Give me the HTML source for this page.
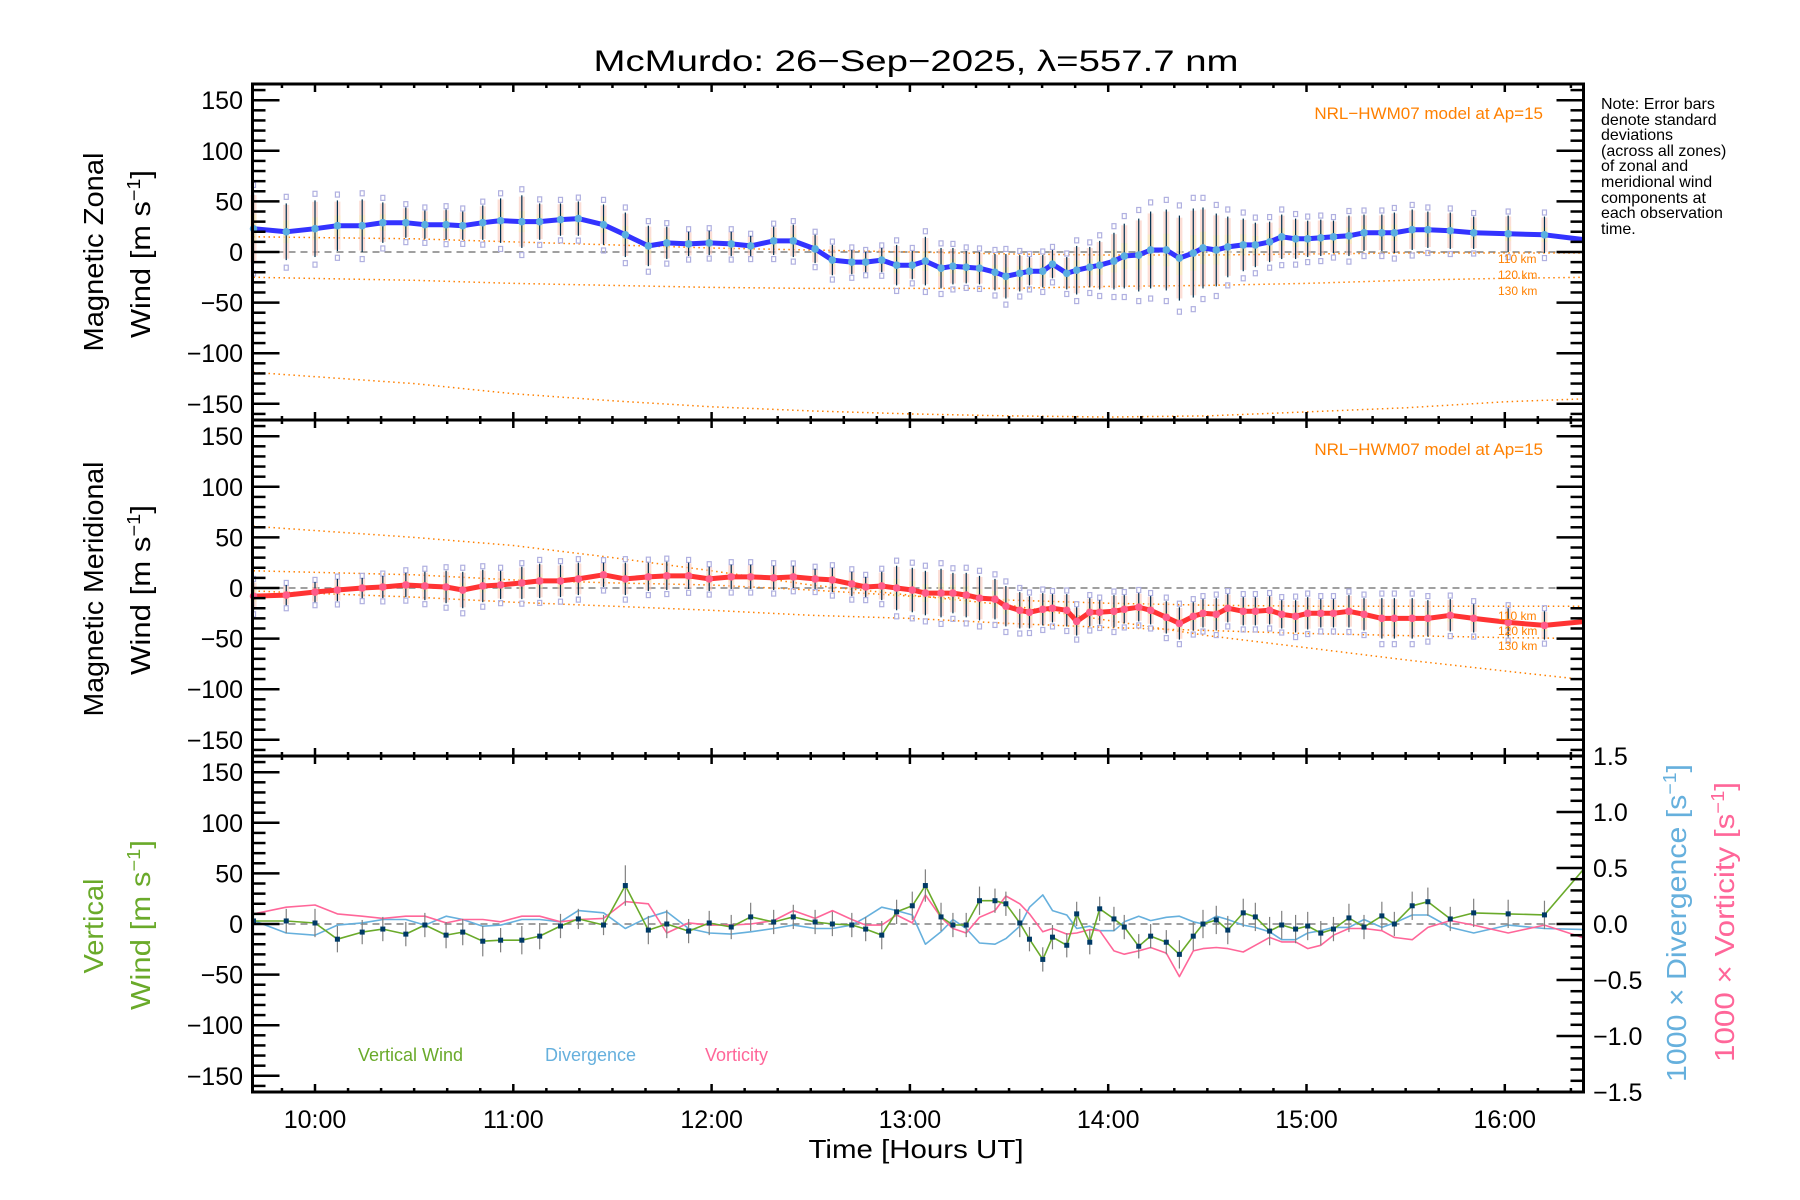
<!DOCTYPE html>
<html><head><meta charset="utf-8"><title>McMurdo winds</title>
<style>
html,body{margin:0;padding:0;background:#fff;}
svg{display:block;font-family:"Liberation Sans",sans-serif;}
</style></head>
<body>
<svg id="chart" width="1800" height="1200" viewBox="0 0 1800 1200" xmlns="http://www.w3.org/2000/svg">
<text x="916" y="71" font-size="30" text-anchor="middle" textLength="645" lengthAdjust="spacingAndGlyphs">McMurdo: 26−Sep−2025, λ=557.7 nm</text>
<g id="marks"></g>
<g id="axes"></g>
<g>
<text transform="translate(103,252) rotate(-90)" font-size="28" text-anchor="middle" textLength="199" lengthAdjust="spacingAndGlyphs">Magnetic Zonal</text>
<text transform="translate(150,254) rotate(-90)" font-size="28" text-anchor="middle" textLength="168" lengthAdjust="spacingAndGlyphs">Wind [m s<tspan dy="-10" font-size="18">−1</tspan><tspan dy="10">]</tspan></text>
</g>
<g>
<text transform="translate(103,589) rotate(-90)" font-size="28" text-anchor="middle" textLength="255" lengthAdjust="spacingAndGlyphs">Magnetic Meridional</text>
<text transform="translate(150,590) rotate(-90)" font-size="28" text-anchor="middle" textLength="170" lengthAdjust="spacingAndGlyphs">Wind [m s<tspan dy="-10" font-size="18">−1</tspan><tspan dy="10">]</tspan></text>
</g>
<g fill="#6aaa2a">
<text transform="translate(103,926) rotate(-90)" font-size="28" text-anchor="middle" textLength="95" lengthAdjust="spacingAndGlyphs">Vertical</text>
<text transform="translate(150,925) rotate(-90)" font-size="28" text-anchor="middle" textLength="170" lengthAdjust="spacingAndGlyphs">Wind [m s<tspan dy="-10" font-size="18">−1</tspan><tspan dy="10">]</tspan></text>
</g>
<text transform="translate(1686,923) rotate(-90)" font-size="28" fill="#66b0dd" text-anchor="middle" textLength="318" lengthAdjust="spacingAndGlyphs">1000 × Divergence [s<tspan dy="-10" font-size="18">−1</tspan><tspan dy="10">]</tspan></text>
<text transform="translate(1734,922) rotate(-90)" font-size="28" fill="#ff6699" text-anchor="middle" textLength="280" lengthAdjust="spacingAndGlyphs">1000 × Vorticity [s<tspan dy="-10" font-size="18">−1</tspan><tspan dy="10">]</tspan></text>
<text x="916" y="1158" font-size="26" text-anchor="middle" textLength="215" lengthAdjust="spacingAndGlyphs">Time [Hours UT]</text>
<g font-size="16">
<text x="1601" y="109">Note: Error bars</text>
<text x="1601" y="125">denote standard</text>
<text x="1601" y="140">deviations</text>
<text x="1601" y="156">(across all zones)</text>
<text x="1601" y="171">of zonal and</text>
<text x="1601" y="187">meridional wind</text>
<text x="1601" y="203">components at</text>
<text x="1601" y="218">each observation</text>
<text x="1601" y="234">time.</text>
</g>
<g fill="#ff8000">
<text x="1543" y="119" font-size="17" text-anchor="end">NRL−HWM07 model at Ap=15</text>
<text x="1543" y="455" font-size="17" text-anchor="end">NRL−HWM07 model at Ap=15</text>
<text x="1498" y="263" font-size="12">110 km</text>
<text x="1498" y="279" font-size="12">120 km</text>
<text x="1498" y="295" font-size="12">130 km</text>
<text x="1498" y="620" font-size="12">110 km</text>
<text x="1498" y="635" font-size="12">120 km</text>
<text x="1498" y="650" font-size="12">130 km</text>
</g>
<g font-size="18">
<text x="358" y="1061" fill="#6aaa2a">Vertical Wind</text>
<text x="545" y="1061" fill="#66b0dd">Divergence</text>
<text x="705" y="1061" fill="#ff6699">Vorticity</text>
</g>
</svg>
<script>
const times=[9.69,9.855,10.0,10.113,10.238,10.342,10.458,10.554,10.661,10.745,10.846,10.936,11.043,11.133,11.238,11.328,11.455,11.565,11.681,11.774,11.884,11.988,12.099,12.197,12.313,12.412,12.522,12.609,12.707,12.777,12.858,12.933,
13.012,13.078,13.157,13.217,13.284,13.351,13.429,13.484,13.554,13.603,13.670,13.719,13.791,13.841,13.907,13.957,14.029,14.081,14.154,14.214,14.293,14.359,14.429,14.478,14.545,14.603,14.681,14.742,14.814,14.875,14.945,15.006,15.072,15.136,15.214,15.290,15.380,15.443,15.533,15.612,15.725,15.843,16.017,16.2,16.41];
const zonal=[23,20,23,26,26,29,29,27,27,26,29,31,30,30,32,33,27,17,6,9,8,9,8,6,11,11,3,-8,-10,-10,-8,-13,
-13,-9,-16,-14,-15,-16,-20,-24,-21,-19,-19,-12,-21,-18,-15,-13,-9,-4,-3,2,2,-6,-1,4,2,5,7,7,10,15,13,13,14,15,16,19,19,19,22,22,21,19,18,17,12];
const zonalErr=[35,28,28,25,26,20,15,14,15,14,17,22,26,18,16,17,20,22,20,16,12,12,12,10,14,16,14,15,12,10,12,20,
14,24,20,18,16,16,18,22,18,14,16,14,16,24,20,24,28,32,36,38,40,42,44,40,36,30,26,22,20,22,20,18,18,16,20,18,18,20,20,18,18,16,18,18,14];
const merid=[-8,-7,-4,-2,0,1,3,2,1,-2,2,3,5,7,7,9,13,9,11,12,12,9,11,11,10,11,9,8,4,1,2,0,
-2,-5,-5,-5,-7,-10,-11,-18,-22,-24,-21,-20,-22,-33,-24,-24,-23,-21,-19,-22,-29,-35,-28,-25,-26,-20,-23,-23,-22,-26,-28,-25,-25,-25,-23,-26,-30,-30,-30,-30,-27,-30,-34,-37,-33];
const meridErr=[14,10,10,11,10,11,12,14,16,18,16,14,16,17,16,16,12,16,14,14,13,12,12,12,12,11,10,12,12,10,14,22,
22,22,24,20,22,22,20,20,18,16,16,14,16,14,14,12,16,14,14,14,16,16,14,14,16,14,14,14,14,14,16,16,14,14,16,16,20,20,20,18,16,14,14,14,18];
const vert=[3,3,1,-15,-8,-5,-10,-1,-11,-8,-17,-16,-16,-12,-2,5,-1,38,-6,0,-7,1,-3,7,2,7,2,0,-1,-5,-11,12,
18,38,7,-1,-1,23,23,20,1,-15,-35,-13,-21,10,-18,15,5,-3,-22,-12,-18,-30,-12,0,4,-6,11,7,-7,-1,-5,-2,-9,-5,6,-3,8,0,18,22,5,11,10,9,57];
const vertErr=[12,12,14,13,12,12,12,12,13,13,15,12,14,13,12,10,10,20,14,14,12,12,12,14,12,12,12,12,12,12,14,12,
14,16,14,12,12,14,12,12,14,12,12,12,12,12,12,12,12,12,12,12,12,14,14,14,14,14,14,14,14,14,14,14,12,12,14,12,14,12,14,14,12,14,14,14,14];
const divergence=[0.03,-0.08,-0.10,-0.01,0.01,0.04,0.04,-0.01,0.07,0.04,-0.02,-0.01,0.04,0.04,0.02,0.12,0.10,-0.04,0.06,0.11,-0.04,-0.08,-0.09,-0.07,-0.04,-0.01,-0.04,-0.04,-0.01,0.06,0.15,0.12,
0.08,-0.18,-0.07,0.04,-0.04,-0.17,-0.18,-0.13,-0.02,0.15,0.26,0.12,0.08,-0.04,-0.02,-0.06,-0.06,0.02,0.07,0.03,0.06,0.07,0.02,0,0.07,0.04,-0.01,-0.03,-0.07,-0.14,-0.14,-0.08,-0.06,-0.03,-0.03,0.04,-0.03,0.01,0.08,0.08,-0.03,-0.08,-0.01,-0.04,-0.05];
const vorticity=[0.09,0.15,0.17,0.09,0.07,0.05,0.07,0.07,0.01,0.04,0.04,0.02,0.07,0.07,0.02,0.04,0.05,0.20,0.18,-0.08,0.01,-0.01,-0.01,0,0.03,0.12,0.05,0.12,0.04,-0.01,-0.01,0.08,
0.01,0.26,0.06,-0.04,-0.08,0.06,0.12,0.25,0.18,0.09,-0.07,-0.04,-0.09,-0.08,-0.05,-0.06,-0.24,-0.27,-0.24,-0.21,-0.26,-0.47,-0.24,-0.22,-0.21,-0.22,-0.25,-0.19,-0.12,-0.16,-0.16,-0.22,-0.19,-0.10,-0.04,-0.04,-0.06,-0.12,-0.14,-0.03,0.03,-0.01,-0.08,-0.01,-0.13];
const modelTimes=[9.69,10.5,11,11.5,12,12.5,13,13.5,14,14.5,15,15.5,16,16.42];
const zon110=[15,13,10,7,4,2,0,-2,-3,-3,-2,-1,-1,-1];
const zon120=[-25,-28,-31,-33,-35,-36,-36,-36,-34,-33,-31,-28,-26,-25];
const zon130=[-119,-130,-140,-147,-153,-157,-160,-162,-163,-162,-158,-154,-148,-145];
const mer110=[17,13,8,5,3,-2,-8,-12,-15,-17,-18,-18,-18,-18];
const mer120=[-3,-9,-14,-18,-22,-27,-30,-35,-39,-42,-45,-47,-49,-50];
const mer130=[61,50,42,30,17,3,-7,-17,-32,-47,-59,-71,-82,-91];
const yMajorTicks=[-150,-100,-50,0,50,100,150];
const rMajorTicks=[-1.5,-1.0,-0.5,0.0,0.5,1.0,1.5];
const hourTicks=[10,11,12,13,14,15,16];

const NS="http://www.w3.org/2000/svg";
const X0=252.5,X1=1583.5,TOPS=[84,420,756],PH=336;
function xs(t){return 315+(t-10)*198.3;}
function ys(v,p){return TOPS[p]+168-v*1.012;}
function yr(v){return 924-v*112;}
const marks=document.getElementById('marks'),axes=document.getElementById('axes');
function mk(tag,at,parent){const e=document.createElementNS(NS,tag);for(const k in at)e.setAttribute(k,at[k]);(parent||marks).appendChild(e);return e;}
function grp(name,parent){const g=mk('g',{},parent);


return g;}
function poly(g,pts,stroke,w,dash){const e=mk('polyline',{points:pts.map(p=>p[0].toFixed(1)+','+p[1].toFixed(1)).join(' '),fill:'none',stroke:stroke,'stroke-width':w,'stroke-linejoin':'round'},g);if(dash)e.setAttribute('stroke-dasharray',dash);return e;}

[0,1,2].forEach(p=>{const g=grp('zero-line-panel-'+(p+1));mk('line',{x1:X0,x2:X1,y1:ys(0,p),y2:ys(0,p),stroke:'#808080','stroke-width':1.5,'stroke-dasharray':'7,5'},g);});
[[zon110,0,'zonal-model-110km'],[zon120,0,'zonal-model-120km'],[zon130,0,'zonal-model-130km'],[mer110,1,'meridional-model-110km'],[mer120,1,'meridional-model-120km'],[mer130,1,'meridional-model-130km']].forEach(([arr,p,name])=>{
 const g=grp(name);poly(g,modelTimes.map((t,i)=>[xs(t),ys(arr[i],p)]),'#ff8000',1.5,'1.5,3.5');});

function windPanel(vals,errs,p,lineCol,dotCol,nm){
 const gz=grp(nm+'-zone-spread');
 const ge=grp(nm+'-error-bars');
 vals.forEach((v,i)=>{const x=xs(times[i]);const e=errs[i];
  const r=mk('rect',{x:x-3,y:ys(v+e*0.95,p),width:6,height:e*1.9*1.012,fill:'#fac8ba','fill-opacity':0.6},gz);
  
  const r2=mk('rect',{x:x-3,y:ys(v+e*0.4,p),width:6,height:e*0.8*1.012,fill:'#f4f0b0','fill-opacity':0.5},gz);
  
  [1.25,-1.25].forEach(k=>{const s=mk('rect',{x:x-2,y:ys(v+k*e,p)-2,width:4,height:5,fill:'none',stroke:'#b0b0e0','stroke-width':1.2},gz);
   });
  const l=mk('line',{x1:x,x2:x,y1:ys(v+e,p),y2:ys(v-e,p),stroke:'#003050','stroke-width':1.2},ge);
  
 });
 const gl=grp(nm+'-line');
 poly(gl,vals.map((v,i)=>[xs(times[i]),ys(v,p)]),lineCol,5);
 vals.forEach((v,i)=>{const c=mk('circle',{cx:xs(times[i]),cy:ys(v,p),r:3.8,fill:dotCol},gl);
  });
}
windPanel(zonal,zonalErr,0,'#3333ff','#5aaee0','zonal');
windPanel(merid,meridErr,1,'#ff3333','#ff5c8a','meridional');

const gd=grp('divergence-line');poly(gd,divergence.map((v,i)=>[xs(times[i]),yr(v)]),'#66b0dd',1.6);
const gv=grp('vorticity-line');poly(gv,vorticity.map((v,i)=>[xs(times[i]),yr(v)]),'#ff6699',1.6);
const gve=grp('vertical-error-bars');
vert.forEach((v,i)=>{const x=xs(times[i]);const l=mk('line',{x1:x,x2:x,y1:ys(v+vertErr[i],2),y2:ys(v-vertErr[i],2),stroke:'#808080','stroke-width':1.2},gve);
 });
const gw=grp('vertical-wind-line');poly(gw,vert.map((v,i)=>[xs(times[i]),ys(v,2)]),'#6aaa2a',1.6);
vert.forEach((v,i)=>{const s=mk('rect',{x:xs(times[i])-2.5,y:ys(v,2)-2.5,width:5,height:5,fill:'#003a66'},gw);
 });

const mask=grp('plot-margin-mask');
mk('rect',{x:X1+1.5,y:80,width:14,height:1016,fill:'#fff'},mask);

for(let p=0;p<3;p++){
 const g=grp('panel-'+(p+1)+'-axes',axes);
 const top=TOPS[p],bot=top+PH;
 mk('rect',{x:X0,y:top,width:X1-X0,height:PH,fill:'none',stroke:'#000','stroke-width':3},g);
 for(let v=-160;v<=160;v+=10){const maj=v%50===0;const y=ys(v,p);
  mk('line',{x1:X0,x2:X0+(maj?27:13),y1:y,y2:y,stroke:'#000','stroke-width':2.5},g);
  if(p<2)mk('line',{x1:X1,x2:X1-(maj?27:13),y1:y,y2:y,stroke:'#000','stroke-width':2.5},g);}
 yMajorTicks.forEach(v=>{const t=mk('text',{x:243,y:ys(v,p)+9,'font-size':25,'text-anchor':'end'},g);t.textContent=(v<0?'−':'')+Math.abs(v);
  
  });
 for(let m=Math.ceil(9.69*6);m<=16.42*6;m++){const t=m/6;const x=xs(t);const maj=m%6===0;
  mk('line',{x1:x,x2:x,y1:top,y2:top+(maj?8:4),stroke:'#000','stroke-width':2.5},g);
  mk('line',{x1:x,x2:x,y1:bot,y2:bot-(maj?8:4),stroke:'#000','stroke-width':2.5},g);}
}
const gr=grp('right-axis-ticks',axes);
for(let k=-15;k<=15;k++){const v=k/10;const maj=k%5===0;const y=yr(v);
 mk('line',{x1:X1,x2:X1-(maj?27:13),y1:y,y2:y,stroke:'#000','stroke-width':2.5},gr);}
rMajorTicks.forEach(v=>{const t=mk('text',{x:1593,y:yr(v)+9,'font-size':25},gr);t.textContent=(v<0?'−':'')+Math.abs(v).toFixed(1);
 
 });
const gx=grp('x-tick-labels',axes);
hourTicks.forEach(h=>{const t=mk('text',{x:xs(h),y:1128,'font-size':25,'text-anchor':'middle'},gx);t.textContent=h+':00';
 
 });
</script>
</body></html>
